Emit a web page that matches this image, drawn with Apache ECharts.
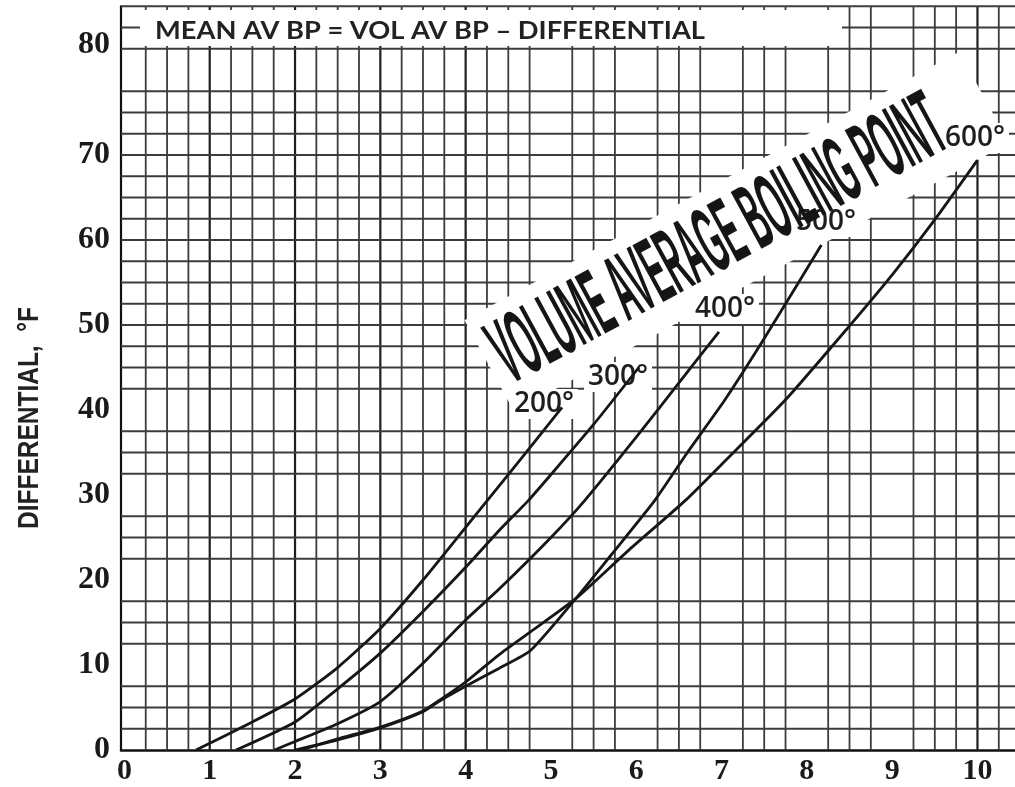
<!DOCTYPE html>
<html>
<head>
<meta charset="utf-8">
<script src="https://cdn.jsdelivr.net/npm/echarts@6/dist/echarts.min.js"></script>
<style>
html,body{margin:0;padding:0;background:#fff;}
#chart{width:1015px;height:787px;}
</style>
</head>
<body>
<div id="chart"></div>
<script>
// ---- data ----
const xTickValues = [0,1,2,3,4,5,6,7,8,9,10];
const yTickValues = [0,10,20,30,40,50,60,70,83];
const yTickLabels = ['0','10','20','30','40','50','60','70','80'];
const xGridLines = [0.25,0.5,0.75,1,1.25,1.5,1.75,2,2.25,2.5,2.75,3,3.25,3.5,3.75,4,4.25,4.5,4.75,
  5.25,5.5,5.75,6.25,6.5,6.75,7.25,7.5,7.75,8.25,8.5,8.75,9.25,9.5,9.75,10,10.25];
const yGridLines = [2.5,5,7.5,12.5,15,17.5,22.5,25,27.5,32.5,35,37.5,42.5,45,47.5,50,52.5,55,57.5,
  60,62.5,65,67.5,70,72.5,75,77.5,82.5,85,87.5];
const curve200 = [[0.84,0],[1.5,3.3],[2.0,6.0],[2.5,9.7],[3.0,14.3],[3.5,20.0],[4.0,26.2],[4.5,32.4],[5.13,40.3]];
const curve300 = [[1.31,0],[2.0,3.3],[2.5,7.2],[3.0,11.4],[3.5,16.3],[4.0,21.5],[4.39,25.8],[4.74,29.4],[5.0,32.4],[5.5,38.3],[6.03,45.0]];
const curve400 = [[1.76,0],[2.0,1.0],[2.5,3.1],[3.0,5.7],[3.5,10.2],[4.0,15.3],[4.39,18.9],[5.0,25.0],[5.4,29.4],[6.0,36.8],[6.5,43.2],[6.97,49.2]];
const curve500 = [[2.0,0],[2.5,1.2],[3.0,2.6],[3.5,4.5],[3.7,5.8],[4.0,7.5],[4.39,9.6],[4.76,11.7],[5.29,17.8],[5.71,23.0],[6.22,29.4],[6.6,35.0],[7.04,41.2],[7.5,48.4],[8.17,59.4]];
const curve600 = [[2.07,0],[2.5,1.3],[3.0,2.7],[3.5,4.6],[3.7,5.9],[4.0,8.0],[4.39,11.2],[4.76,13.9],[5.29,17.8],[5.9,23.4],[6.58,29.4],[7.0,33.6],[7.75,41.2],[8.5,49.9],[9.0,55.9],[9.5,62.4],[10.0,69.4]];
const curveNames = ['200°','300°','400°','500°','600°'];
const titleText = 'MEAN AV BP = VOL AV BP \u2013 DIFFERENTIAL';
const bandText = 'VOLUME AVERAGE BOILING POINT';
const yName = 'DIFFERENTIAL,  °F';

// ---- layout ----
const X_MIN = -0.04, X_MAX = 10.44, Y_MIN = 0, Y_MAX = 87.5;

function textWidth(str, font){
  const c = document.createElement('canvas').getContext('2d');
  c.font = font; return c.measureText(str).width;
}

const chart = echarts.init(document.getElementById('chart'), null, {renderer:'canvas'});

function gridSeries(values, vertical){
  return {
    type:'custom', z:1, silent:true, clip:false,
    data: values.map(v => [v]),
    encode: vertical ? {x:0} : {y:0},
    renderItem: function(params, api){
      const v = api.value(0);
      const p1 = vertical ? api.coord([v, Y_MIN]) : api.coord([X_MIN, v]);
      const p2 = vertical ? api.coord([v, Y_MAX]) : api.coord([X_MAX, v]);
      const major = vertical && Number.isInteger(v);
      return {type:'line', shape:{x1:p1[0],y1:p1[1],x2:p2[0],y2:p2[1]},
        style:{stroke: major ? '#1e1e1e' : '#3c3c3c', lineWidth: major ? 2.2 : 1.8}};
    }
  };
}

const curves = [curve200, curve300, curve400, curve500, curve600];
const curveSeries = curves.map((c, i) => ({
  type:'line', name: curveNames[i], data: c, z:5, showSymbol:false, symbol:'none',
  smooth:0.2, silent:true,
  lineStyle:{color:'#161616', width:2.8}
}));

const titleFont = 'bold 25px Lato';
const bandFont = 'bold 94px "Liberation Sans"';
const yNameFont = 'bold 30px "Liberation Sans"';
const labelFont = '600 28px "Open Sans"';

const labelPos = [[544,404],[618,377],[725,309],[826,222],[975,138]];

const graphics = [
  {type:'rect', z:3, silent:true, shape:{x:140,y:10,width:702,height:36}, style:{fill:'#fff'}},
  {type:'text', z:4, silent:true, x:430, y:31, scaleX: 550/textWidth(titleText, titleFont),
    style:{text:titleText, font:titleFont, fill:'#222', align:'center', verticalAlign:'middle'}},
  {type:'group', x:516, y:390, rotation:0.497, z:3, children:[
    {type:'rect', z:3, silent:true, shape:{x:-12,y:-86,width:563,height:104}, style:{fill:'#fff'}},
    {type:'text', z:7, silent:true, x:-2, y:-33, scaleX: 502/textWidth(bandText, bandFont),
      style:{text:bandText, font:bandFont, fill:'#151515', align:'left', verticalAlign:'middle'}}
  ]},
  {type:'text', z:4, silent:true, x:30, y:418, rotation:Math.PI/2, scaleX: 222/textWidth(yName, yNameFont),
    style:{text:yName, font:yNameFont, fill:'#222', align:'center', verticalAlign:'middle'}}
];
curveNames.forEach((n, i) => {
  graphics.push({type:'text', z:4, silent:true, x:labelPos[i][0], y:labelPos[i][1],
    style:{text:n, font:labelFont, fill:'#1e1e1e', align:'center', verticalAlign:'middle',
      backgroundColor:'#fff', padding:[1,4]}});
});

chart.setOption({
  animation:false,
  backgroundColor:'#fff',
  grid:{left:121, top:6.25, width:896, height:743.75, containLabel:false},
  xAxis:{type:'value', min:X_MIN, max:X_MAX,
    axisLine:{show:true, onZero:false, lineStyle:{color:'#111', width:2.6}},
    axisTick:{show:false}, splitLine:{show:false},
    axisLabel:{customValues:xTickValues, margin:6, color:'#1a1a1a',
      fontFamily:'"Liberation Serif"', fontWeight:'bold', fontSize:30}},
  yAxis:{type:'value', min:Y_MIN, max:Y_MAX,
    axisLine:{show:true, onZero:false, lineStyle:{color:'#111', width:2.2}},
    axisTick:{show:false}, splitLine:{show:false},
    axisLabel:{customValues:yTickValues, margin:11, color:'#1a1a1a',
      fontFamily:'"Liberation Serif"', fontWeight:'bold', fontSize:32,
      formatter: v => yTickLabels[yTickValues.indexOf(v)]}},
  graphic: graphics,
  series: [gridSeries(xGridLines, true), gridSeries(yGridLines, false)].concat(curveSeries)
});
</script>
</body>
</html>
